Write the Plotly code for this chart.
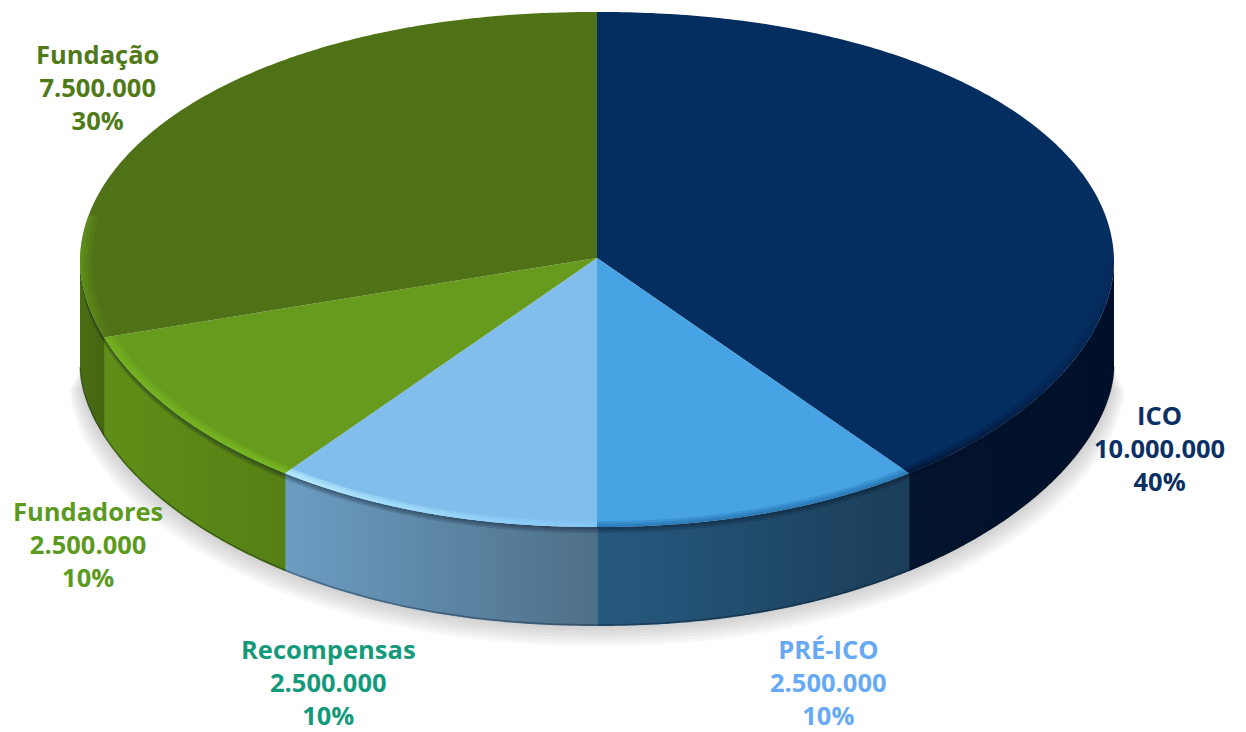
import numpy as np
import plotly.graph_objects as go

# ---- data ----
names = ["ICO", "PRÉ-ICO", "Recompensas", "Fundadores", "Fundação"]
values = [10000000, 2500000, 2500000, 2500000, 7500000]

# ---- styles ----
top_colors = ["#042D60", "#47A3E3", "#82BEEC", "#679B1E", "#507216"]
side_left = ["#03142F", "#265A80", "#6C9DC2", "#5F8F18", "#4A6C12"]
side_right = ["#01102A", "#1B3D58", "#4E6F88", "#557F14", "#456610"]
text_colors = ["#0B3063", "#66A9F4", "#149A7B", "#5C9A1E", "#507A18"]
# rim bevel on the top face (one of three stacked layers): colour at left / right of the slice
bevel_left = ["rgba(0,14,40,0.30)", "rgba(20,90,150,0.22)", "rgba(190,240,255,0.50)",
              "rgba(125,190,35,0.22)", "rgba(100,155,30,0.30)"]
bevel_right = ["rgba(0,14,40,0.03)", "rgba(20,90,150,0.22)", "rgba(130,200,250,0.36)",
               "rgba(125,190,35,0.38)", "rgba(100,155,30,0.0)"]
# label block centre pixels
label_pos = [(1159, 448), (828, 682), (328, 682), (88, 544), (97, 87)]

CX, CY, APEX_Y, RX, RY_TOP, RY_BOT = 597.0, 262.0, 258.0, 517.0, 250.0, 265.0
BASE_Y, BASE_RY = 368.0, 258.0


def rim(theta, k=1.0):
    s, c = np.sin(theta), np.cos(theta)
    x = CX + k * RX * np.sign(s) * np.abs(s) ** 0.95
    y = np.where(c > 0, CY - k * RY_TOP * c, CY + k * RY_BOT * np.abs(c) ** 1.07)
    return x, y


def base(theta):
    return BASE_Y + BASE_RY * np.abs(np.cos(theta)) ** 1.13


def gradient(c0, c1, x0, x1):
    return dict(type="horizontal", colorscale=[[0, c0], [1, c1]], start=x0, stop=x1)


fig = go.Figure()
total = sum(values)
edges = np.concatenate([[0], np.cumsum(values)]) / total * 2 * np.pi

# soft ground shadow
t = np.linspace(np.pi / 2, 3 * np.pi / 2, 240)
for off in (20, 17, 14, 11, 8, 5, 2):
    x, y = rim(t)
    cx_scale = 1 + off / 1000
    fig.add_trace(go.Scatter(x=CX + (x - CX) * cx_scale, y=base(t) + off, fill="toself",
                             fillcolor="rgba(110,110,110,0.05)", mode="none",
                             hoverinfo="skip", showlegend=False))

# side walls (each overlaps the next slightly so no seam shows)
OVERLAP = 0.001
for i in range(len(values)):
    a0, a1 = max(edges[i], np.pi / 2), min(edges[i + 1], 3 * np.pi / 2)
    if a1 <= a0:
        continue
    t = np.linspace(a0 - OVERLAP if a0 > np.pi / 2 else a0, a1 + OVERLAP if a1 < 3 * np.pi / 2 else a1, 120)
    x, y = rim(t)
    yb = base(t)
    px = np.concatenate([x, x[::-1]])
    py = np.concatenate([y, yb[::-1]])
    fig.add_trace(go.Scatter(x=px, y=py, fill="toself", mode="none",
                             fillgradient=gradient(side_left[i], side_right[i], px.min(), px.max()),
                             hoverinfo="skip", showlegend=False, name=names[i]))
    # dark soft edge directly below the rim and along the base
    for d1, alpha in ((6, 0.16), (4, 0.16), (2, 0.16)):
        fig.add_trace(go.Scatter(x=px, y=np.concatenate([y, (y + d1)[::-1]]),
                                 fill="toself", fillcolor=f"rgba(5,20,35,{alpha})", mode="none",
                                 hoverinfo="skip", showlegend=False))
    fig.add_trace(go.Scatter(x=x, y=yb - 1, mode="lines", line=dict(color="rgba(10,20,35,0.35)", width=1.5),
                             hoverinfo="skip", showlegend=False))

# top face slices
for i in range(len(values)):
    t = np.linspace(edges[i], edges[i + 1], 240)
    x, y = rim(t)
    fig.add_trace(go.Scatter(x=np.concatenate([[CX], x, [CX]]), y=np.concatenate([[APEX_Y], y, [APEX_Y]]),
                             fill="toself", fillcolor=top_colors[i], mode="none",
                             text=names[i], hoverinfo="text", showlegend=False, name=names[i]))

# bevel bands along the rim of the top face: stacked so the outer edge is strongest
bevel_span = [(np.pi * 0.50, edges[1]), (edges[1], edges[2]), (edges[2], edges[3]),
              (edges[3], edges[4]), (edges[4], np.pi * 1.56)]
for i, (a0, a1) in enumerate(bevel_span):
    t = np.linspace(a0, a1, 120)
    for k_in in (0.978, 0.986, 0.993):
        xo, yo = rim(t, 1.0)
        xi, yi = rim(t, k_in)
        px = np.concatenate([xo, xi[::-1]])
        py = np.concatenate([yo, yi[::-1]])
        fig.add_trace(go.Scatter(x=px, y=py, fill="toself", mode="none",
                                 fillgradient=gradient(bevel_left[i], bevel_right[i], px.min(), px.max()),
                                 hoverinfo="skip", showlegend=False))

# labels
annotations = []
for i, name in enumerate(names):
    value_text = f"{values[i]:,}".replace(",", ".")
    pct_text = f"{round(values[i] / total * 100)}%"
    lx, ly = label_pos[i]
    annotations.append(dict(x=lx, y=ly, text=f"{name}<br>{value_text}<br>{pct_text}", showarrow=False,
                            xanchor="center", yanchor="middle", align="center", xref="x", yref="y",
                            font=dict(family="Open Sans", size=25.5, color=text_colors[i], weight=700)))

fig.update_layout(
    width=1246, height=732, margin=dict(l=0, r=0, t=0, b=0),
    paper_bgcolor="white", plot_bgcolor="white", showlegend=False,
    xaxis=dict(range=[0, 1246], visible=False, fixedrange=True),
    yaxis=dict(range=[732, 0], visible=False, fixedrange=True),
    annotations=annotations,
)
fig.write_html("out.html", config={"displayModeBar": False},
               post_script="document.body.style.margin='0';document.body.style.overflow='hidden';")
